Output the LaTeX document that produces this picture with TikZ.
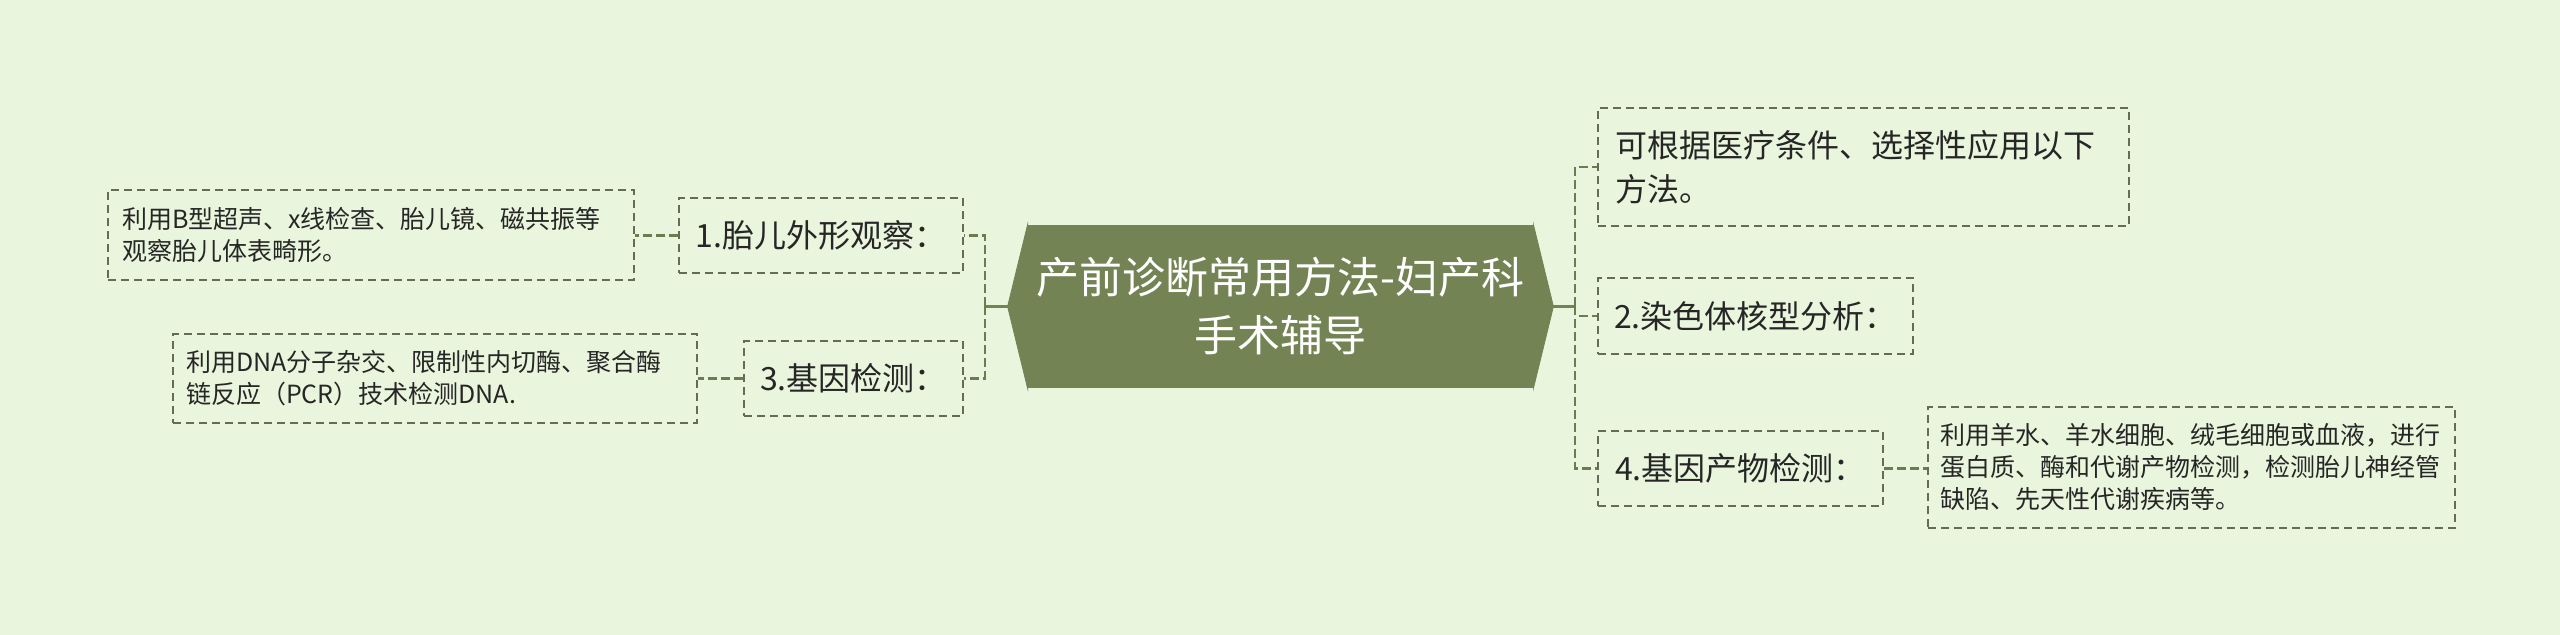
\documentclass[tikz,border=0pt]{standalone}
\usepackage{fontspec}
\setmainfont{Noto Sans CJK SC}
\usepackage{xcolor}
\usepackage{tikz}

\definecolor{bgcol}{RGB}{233,245,220}
\definecolor{titlecol}{RGB}{115,131,84}
\definecolor{linkcol}{RGB}{108,124,80}
\definecolor{boxcol}{RGB}{100,108,88}
\definecolor{txtcol}{RGB}{38,38,38}

\tikzset{
  title/.style={fill=titlecol, text=white, inner sep=0pt, align=center,
    minimum width=252.5pt, minimum height=81.5pt,
    font=\fontsize{21.5pt}{29pt}\selectfont},
  topic/.style={draw=boxcol, line width=1pt, dash pattern=on 4pt off 2.5pt,
    text=txtcol, anchor=north west, inner sep=0pt,
    font=\fontsize{16pt}{22pt}\selectfont},
  detail/.style={topic, align=left, font=\fontsize{12.5pt}{16pt}\selectfont},
  link/.style={draw=linkcol, line width=1.3pt, dash pattern=on 4.5pt off 2pt},
  trunk/.style={draw=titlecol, line width=1.5pt},
}

\begin{document}
\begin{tikzpicture}[x=0.5pt,y=-0.5pt]
    \useasboundingbox[fill=bgcol] (0,0) rectangle (2560,635);

    % centre
    \node[title] (title) at (1280.5,306.5) {产前诊断常用方法-妇产科\\手术辅导};
    \filldraw[titlecol, line width=0.4pt] (title.north west) -- ([xshift=-10pt]title.west) -- (title.south west) -- cycle;
    \filldraw[titlecol, line width=0.4pt] (title.north east) -- ([xshift=10pt]title.east) -- (title.south east) -- cycle;

    % left branch
    \node[topic, minimum width=142pt, minimum height=37.5pt] (shape) at (678,197) {1.胎儿外形观察：};
    \node[topic, minimum width=109.5pt, minimum height=37.5pt] (gene) at (743,340) {3.基因检测：};
    \node[detail, minimum width=263pt, minimum height=45pt, inner xsep=7pt, text width=249pt] (shapeinfo) at (107,189)
        {利用B型超声、x线检查、胎儿镜、磁共振等\\观察胎儿体表畸形。};
    \node[detail, minimum width=262pt, minimum height=44.5pt, inner xsep=6.5pt, text width=249pt] (geneinfo) at (172,333)
        {利用DNA分子杂交、限制性内切酶、聚合酶\\链反应（PCR）技术检测DNA.};

    % right branch
    \node[topic, align=left, minimum width=265.5pt, minimum height=59pt, inner xsep=8.5pt, text width=248.5pt] (intro) at (1597,107)
        {可根据医疗条件、选择性应用以下\\方法。};
    \node[topic, minimum width=157.5pt, minimum height=38pt] (karyo) at (1597,277) {2.染色体核型分析：};
    \node[topic, minimum width=142.5pt, minimum height=37.5pt] (product) at (1597,430) {4.基因产物检测：};
    \node[detail, minimum width=263.5pt, minimum height=60.5pt, inner xsep=6pt, text width=251.5pt] (productinfo) at (1927,406)
        {利用羊水、羊水细胞、绒毛细胞或血液，进行\\蛋白质、酶和代谢产物检测，检测胎儿神经管\\缺陷、先天性代谢疾病等。};

    % connectors
    \coordinate (ljoin) at (985,306.5);
    \coordinate (rjoin) at (1575,306.5);
    \draw[trunk] ([xshift=-10pt]title.west) -- (ljoin);
    \draw[trunk] ([xshift=10pt]title.east) -- (rjoin);
    \draw[link] (ljoin) |- (shape.east);
    \draw[link] (ljoin) |- (gene.east);
    \draw[link] (rjoin) |- (intro.west);
    \draw[link] (rjoin) |- (karyo.west);
    \draw[link] (rjoin) |- (product.west);
    \draw[link] (shape.west) -- (shape.west -| shapeinfo.east);
    \draw[link] (gene.west) -- (gene.west -| geneinfo.east);
    \draw[link] (product.east) -- (product.east -| productinfo.west);
\end{tikzpicture}
\end{document}
